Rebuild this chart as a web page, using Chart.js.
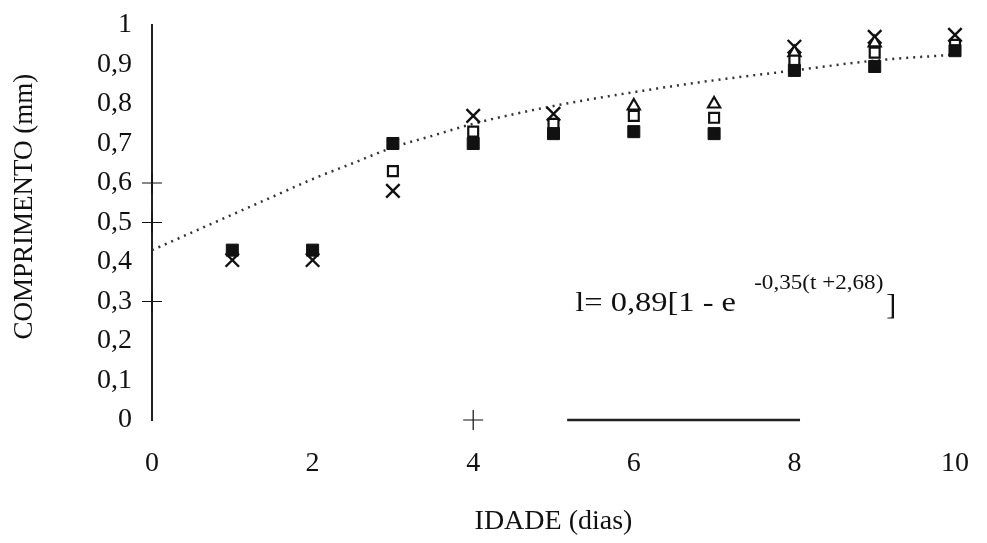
<!DOCTYPE html>
<html>
<head>
<meta charset="utf-8">
<script src="https://cdn.jsdelivr.net/npm/chart.js@4/dist/chart.umd.min.js"></script>
<style>
  html, body { margin: 0; padding: 0; background: #fff; }
  #wrap { width: 987px; height: 543px; }
</style>
</head>
<body>
<div id="wrap"><canvas id="c" width="987" height="543"></canvas></div>
<script>
// Idade (dias) das larvas
const ages = [1, 2, 3, 4, 5, 6, 7, 8, 9, 10];

// Comprimento médio (mm) por réplica
const filledSquare = [0.43, 0.43, 0.70, 0.70, 0.725, 0.73, 0.725, 0.885, 0.895, 0.935];
const openSquare   = [null, null, 0.63, 0.73, 0.75, 0.77, 0.765, 0.91, 0.93, 0.95];
const triangle     = [null, null, null, null, null, 0.795, 0.80, 0.93, 0.955, null];
const crossMark    = [0.405, 0.405, 0.58, 0.77, 0.775, null, null, 0.945, 0.97, 0.975];

// Curva ajustada (von Bertalanffy)
const fitAges   = [0, 0.5, 1, 1.5, 2, 2.5, 3, 3.5, 4, 5, 6, 7, 8, 9, 10];
const fitLength = [0.43, 0.475, 0.52, 0.565, 0.61, 0.65, 0.69, 0.72, 0.75, 0.795, 0.83, 0.86, 0.885, 0.91, 0.925];

// Marcas soltas nos eixos
const plusX = [0, 0, 0, 4];
const plusY = [0.6, 0.5, 0.3, 0];
const baseSegX = [5.17, 8.07];
const baseSegY = [0, 0];

const xTickLabels = ['0', '2', '4', '6', '8', '10'];
const yTickLabels = ['0', '0,1', '0,2', '0,3', '0,4', '0,5', '0,6', '0,7', '0,8', '0,9', '1'];

const xTitle = 'IDADE (dias)';
const yTitle = 'COMPRIMENTO (mm)';
const equation = { main: 'l= 0,89[1 - e', exp: '-0,35(t +2,68)', close: ']' };

const pts = (xs, ys) => xs.map((x, i) => ({ x, y: ys[i] }));

const FONT = "'Liberation Serif', 'DejaVu Serif', serif";
const INK = '#111';

// Título do eixo Y e a equação ajustada
const annotationPlugin = {
  id: 'annotations',
  afterDatasetsDraw(chart) {
    const { ctx, scales } = chart;
    ctx.save();
    ctx.fillStyle = INK;

    // Título vertical
    ctx.save();
    ctx.translate(25, scales.y.getPixelForValue(0.54));
    ctx.rotate(-Math.PI / 2);
    ctx.textAlign = 'center';
    ctx.textBaseline = 'middle';
    ctx.font = `27px ${FONT}`;
    ctx.fillText(yTitle, 0, 0);
    ctx.restore();

    // Equação
    const x0 = scales.x.getPixelForValue(5.27);
    const y0 = scales.y.getPixelForValue(0.275);
    ctx.textBaseline = 'alphabetic';
    ctx.textAlign = 'left';
    ctx.save();
    ctx.translate(x0, y0);
    ctx.scale(1.16, 1);
    ctx.font = `28px ${FONT}`;
    ctx.fillText(equation.main, 0, 0);
    ctx.restore();
    ctx.save();
    ctx.translate(x0 + 179, y0 - 22);
    ctx.scale(1.1, 1);
    ctx.font = `21px ${FONT}`;
    ctx.fillText(equation.exp, 0, 0);
    ctx.restore();
    ctx.font = `30px ${FONT}`;
    ctx.fillText(equation.close, x0 + 311, y0 + 3);
    ctx.restore();
  }
};

new Chart(document.getElementById('c'), {
  type: 'scatter',
  data: {
    datasets: [
      {
        label: 'filled',
        data: pts(ages, filledSquare),
        pointStyle: 'rect', pointRadius: 8.5, clip: false,
        backgroundColor: INK, borderColor: INK, borderWidth: 1
      },
      {
        label: 'open',
        data: pts(ages, openSquare),
        pointStyle: 'rect', pointRadius: 7, clip: false,
        backgroundColor: '#fff', borderColor: INK, borderWidth: 2.2
      },
      {
        label: 'triangle',
        data: pts(ages, triangle),
        pointStyle: 'triangle', pointRadius: 7, clip: false,
        backgroundColor: '#fff', borderColor: INK, borderWidth: 2.2
      },
      {
        label: 'cross',
        data: pts(ages, crossMark),
        pointStyle: 'crossRot', pointRadius: 9.5, clip: false,
        borderColor: INK, borderWidth: 2.4
      },
      {
        label: 'fit',
        type: 'line',
        data: pts(fitAges, fitLength),
        showLine: true, cubicInterpolationMode: 'monotone', clip: false,
        borderColor: '#333', borderWidth: 2.5, borderDash: [2, 5],
        pointRadius: 0, fill: false
      },
      {
        label: 'plus',
        data: pts(plusX, plusY),
        pointStyle: 'cross', pointRadius: 10, clip: false,
        borderColor: INK, borderWidth: 1.2
      },
      {
        label: 'base',
        type: 'line',
        data: pts(baseSegX, baseSegY),
        showLine: true, borderColor: '#222', borderWidth: 2.5, clip: false,
        pointRadius: 0, fill: false
      }
    ]
  },
  options: {
    responsive: false,
    animation: false,
    events: [],
    layout: { padding: { top: 25, right: 32, left: 0, bottom: 0 } },
    plugins: { legend: { display: false }, tooltip: { enabled: false } },
    scales: {
      x: {
        type: 'linear', min: 0, max: 10,
        afterFit(s) { s.height = 123; s.paddingLeft = 0; s.paddingRight = 0; },
        border: { display: false },
        grid: { display: false, drawTicks: false },
        ticks: {
          stepSize: 2, padding: 27, color: INK,
          font: { family: FONT, size: 28 },
          callback: (v, i) => xTickLabels[i]
        },
        title: {
          display: true, text: xTitle, color: INK,
          font: { family: FONT, size: 28 },
          padding: { top: 0, bottom: 5 }
        }
      },
      y: {
        type: 'linear', min: 0, max: 1,
        afterFit(s) { s.width = 152; s.paddingTop = 0; s.paddingBottom = 0; },
        border: { display: true, color: '#222', width: 2 },
        grid: { display: false, drawTicks: false },
        ticks: {
          stepSize: 0.1, padding: 20, color: INK,
          font: { family: FONT, size: 28 },
          callback: (v, i) => yTickLabels[i]
        },
        title: { display: false }
      }
    }
  },
  plugins: [annotationPlugin]
});
</script>
</body>
</html>
